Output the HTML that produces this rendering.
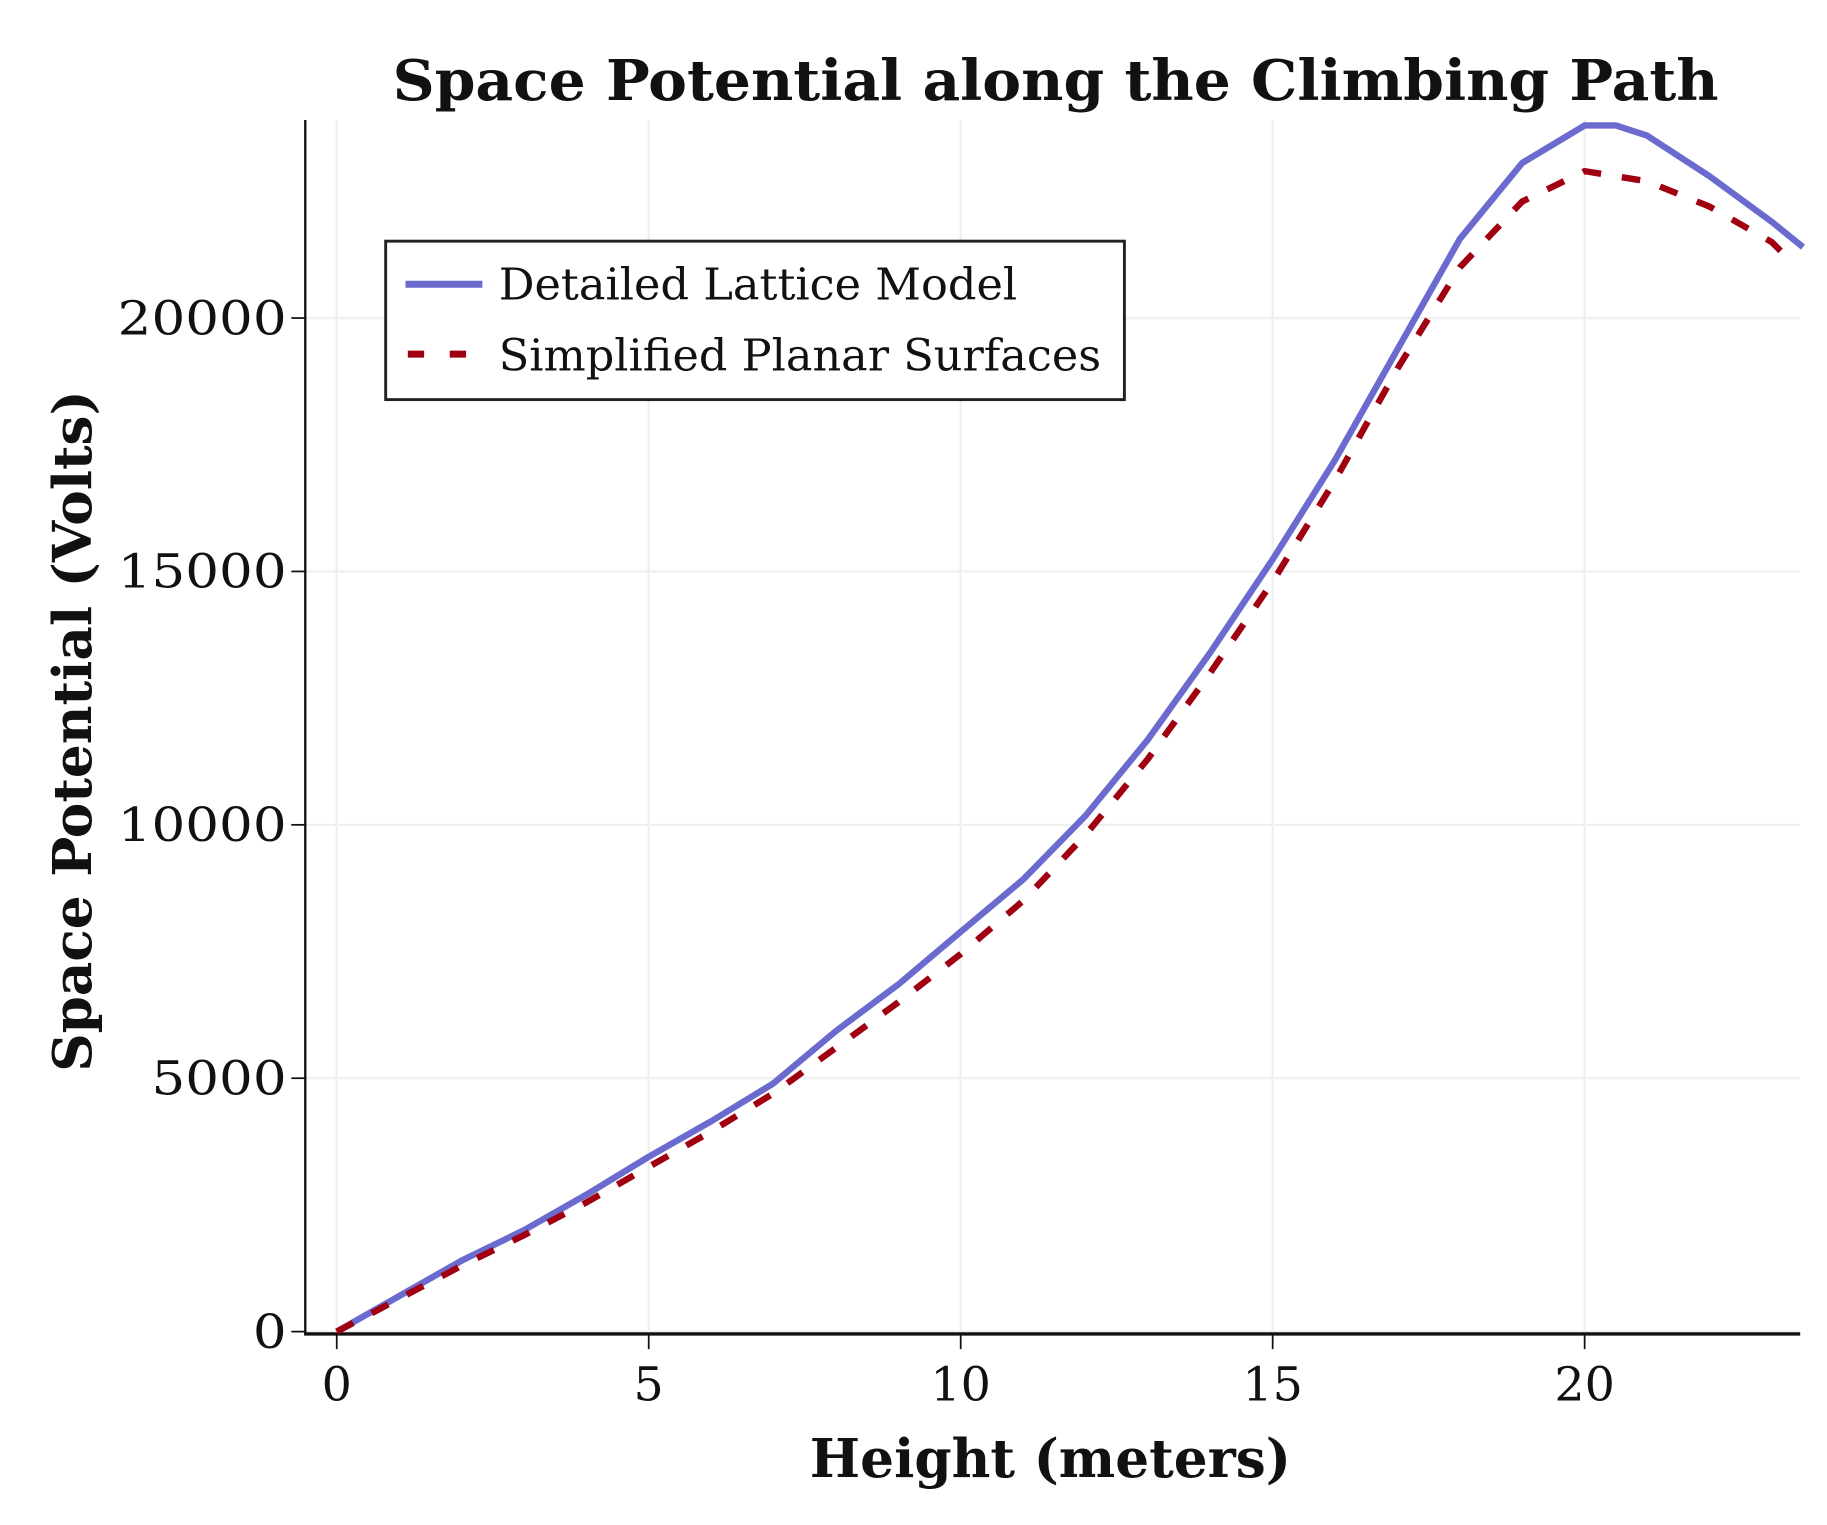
<!DOCTYPE html>
<html><head><meta charset="utf-8"><style>
html,body{margin:0;padding:0;background:#fff;}
svg{display:block;}
text{font-family:"DejaVu Serif","Liberation Serif",serif;fill:#111;}
</style></head><body>
<svg id="chart" width="1827" height="1525" viewBox="0 0 1568 1309" preserveAspectRatio="none" xmlns="http://www.w3.org/2000/svg">
<rect width="1568" height="1309" fill="#fff"/>
<text x="337" y="86" font-size="48" font-weight="bold" textLength="1138" lengthAdjust="spacingAndGlyphs">Space Potential along the Climbing Path</text>
<g id="grid"></g>
<g id="axes"></g>
<g id="series"></g>
<text x="695" y="1268" font-size="46" font-weight="bold" textLength="413" lengthAdjust="spacingAndGlyphs">Height (meters)</text>
<text transform="translate(78,920) rotate(-90)" font-size="46" font-weight="bold" textLength="585" lengthAdjust="spacingAndGlyphs">Space Potential (Volts)</text>
<g>
<rect x="331" y="207" width="634" height="136" fill="#fff" stroke="#222" stroke-width="2.5"/>
<line x1="348" y1="244" x2="414" y2="244" stroke="#6b6bcf" stroke-width="6"/>
<text x="428" y="257" font-size="38" textLength="445" lengthAdjust="spacingAndGlyphs">Detailed Lattice Model</text>
<line x1="350" y1="304" x2="414" y2="304" stroke="#a00010" stroke-width="6" stroke-dasharray="14,22"/>
<text x="428" y="318" font-size="38" textLength="517" lengthAdjust="spacingAndGlyphs">Simplified Planar Surfaces</text>
</g>
</svg>
<script>
const xTicks = [0,5,10,15,20];
const yTicks = [0,5000,10000,15000,20000];
const detailedX = [0,1,2,3,4,5,6,7,8,9,10,11,12,13,14,15,16,17,18,19,20,20.5,21,22,23,23.5];
const detailedY = [0,700,1400,2000,2700,3450,4150,4900,5930,6850,7890,8920,10180,11680,13400,15240,17200,19380,21560,23060,23800,23800,23600,22800,21900,21400];
const simplifiedX = [0,1,2,3,4,5,6,7,8,9,10,11,12,13,14,15,16,17,18,19,20,21,22,23,23.2];
const simplifiedY = [0,650,1300,1900,2550,3250,3950,4700,5600,6500,7450,8500,9800,11300,13000,14800,16800,19000,21000,22300,22900,22700,22200,21500,21250];

const X0 = 289, XU = 53.55, Y0 = 1143, YU = 217.5/5000;
const sx = v => X0 + v*XU;
const sy = v => Y0 - v*YU;
const NS = 'http://www.w3.org/2000/svg';
function mk(tag, attrs, parent){ const e=document.createElementNS(NS,tag); for(const k in attrs) e.setAttribute(k,attrs[k]); parent.appendChild(e); return e; }
const grid=document.getElementById('grid'), axes=document.getElementById('axes'), series=document.getElementById('series');

xTicks.forEach(t=>{
  const g=mk('line',{x1:sx(t),x2:sx(t),y1:103,y2:1143,stroke:'#f0f0f0','stroke-width':2},grid);
  
  
  const tk=mk('line',{x1:sx(t),x2:sx(t),y1:1145,y2:1158,stroke:'#111','stroke-width':1.5},axes);
  
  
  const l=mk('text',{x:sx(t),y:1202,'text-anchor':'middle','font-size':40,textLength:String(t).length*26,lengthAdjust:'spacingAndGlyphs'},axes);
  l.textContent=t;
  
  
});
yTicks.forEach(t=>{
  const g=mk('line',{x1:262,x2:1545,y1:sy(t),y2:sy(t),stroke:'#f0f0f0','stroke-width':2},grid);
  
  
  const tk=mk('line',{x1:250,x2:262,y1:sy(t),y2:sy(t),stroke:'#111','stroke-width':1.5},axes);
  
  
  const l=mk('text',{x:246,y:sy(t)+14,'text-anchor':'end','font-size':40,textLength:String(t).length*29,lengthAdjust:'spacingAndGlyphs'},axes);
  l.textContent=t;
  
  
});
const ya=mk('line',{x1:262,x2:262,y1:103,y2:1145,stroke:'#111','stroke-width':2},axes);


const xa=mk('line',{x1:261,x2:1545,y1:1145,y2:1145,stroke:'#111','stroke-width':3},axes);



const pts=(xs,ys)=>xs.map((x,i)=>sx(x).toFixed(1)+','+sy(ys[i]).toFixed(1)).join(' ');
const s1=mk('polyline',{points:pts(detailedX,detailedY),fill:'none',stroke:'#6b6bcf','stroke-width':5.5,'stroke-linejoin':'round'},series);


const s2=mk('polyline',{points:pts(simplifiedX,simplifiedY),fill:'none',stroke:'#a00010','stroke-width':5.5,'stroke-dasharray':'16,18'},series);


</script>
</body></html>
